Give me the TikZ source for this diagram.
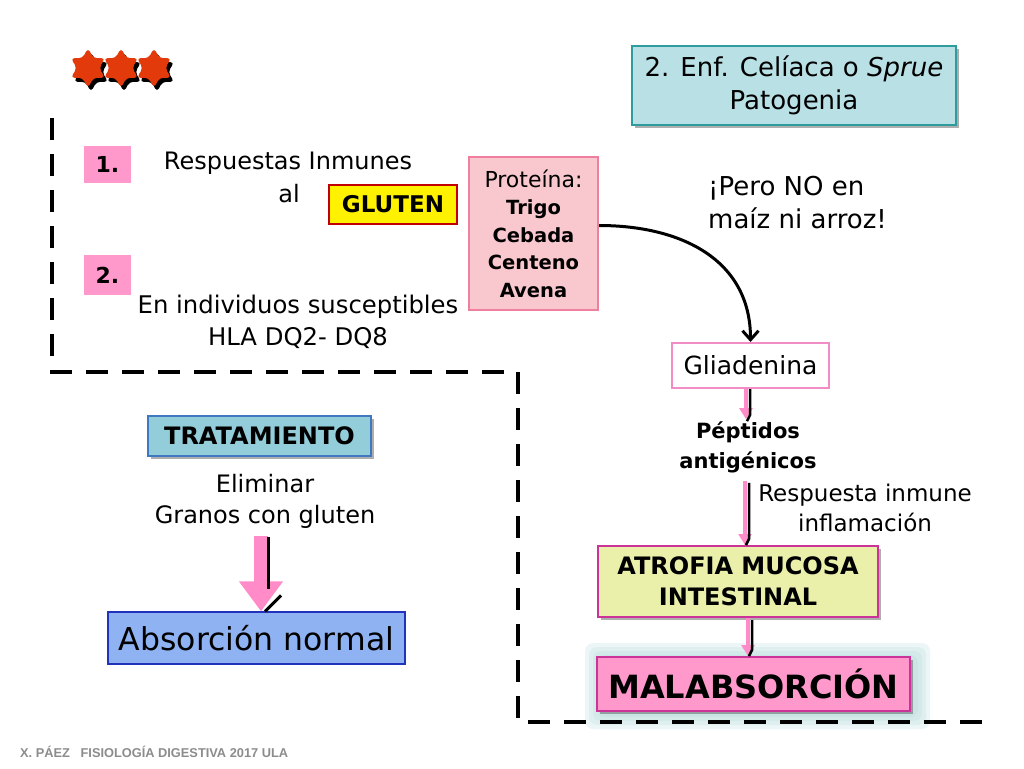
\documentclass[tikz,border=0pt]{standalone}
\usepackage{fontspec}
\setmainfont{DejaVu Sans}
\newfontfamily\footfont{Liberation Sans}
\usetikzlibrary{shapes.geometric,arrows.meta,shadows,calc}
\definecolor{starred}{HTML}{E23A0A}
\definecolor{pinkA}{HTML}{FF8CC8}
\definecolor{numpink}{HTML}{FF99CC}
\definecolor{protfill}{HTML}{F8C8CE}
\definecolor{protdraw}{HTML}{EE7F9E}
\definecolor{titlefill}{HTML}{B9E0E4}
\definecolor{titledraw}{HTML}{2E9C9C}
\definecolor{glutdraw}{HTML}{C00000}
\definecolor{gliadraw}{HTML}{F28CC4}
\definecolor{atrofill}{HTML}{EAF0AA}
\definecolor{magdraw}{HTML}{CC3399}
\definecolor{malfill}{HTML}{FF99CC}
\definecolor{tratfill}{HTML}{93CDDA}
\definecolor{tratdraw}{HTML}{3F78C0}
\definecolor{absfill}{HTML}{8EB2F2}
\definecolor{absdraw}{HTML}{2233BB}
\definecolor{glow}{HTML}{A9D3D6}
\definecolor{footgray}{HTML}{8C8C8C}
\newcommand\fsz[2]{\fontsize{#1}{#2}\selectfont}
\begin{document}
\begin{tikzpicture}[x=1pt,y=-1pt,
  box/.style={draw, line width=2pt, inner sep=0pt, align=center},
  txt/.style={inner sep=0pt, align=center, font=\fsz{23}{31}},
  shad/.style={drop shadow={shadow xshift=3pt, shadow yshift=-3pt, opacity=0.45, fill=black!70}},
  pinkarr/.style={draw=pinkA, line width=4pt, -{Triangle[length=11pt,width=13pt]}},
  blackarr/.style={draw=black, line width=2.5pt},
  starshape/.style={star, star points=6, star point ratio=1.8, minimum size=40pt, inner sep=0pt, rounded corners=4pt},
]
\path[use as bounding box, fill=white] (0,0) rectangle (1024,768);

% stars
\foreach \i/\x in {1/88,2/121,3/154}{
  \node[starshape, fill=black] (sh\i) at (\x+3,72) {};
  \node[starshape, fill=starred] (st\i) at (\x,68) {};
}

% malabsorcion glow (behind frame)
\foreach \g in {16,12,8,4}{
  \fill[glow, opacity=0.2, rounded corners=8pt] (597-\g+4,657-\g+2) rectangle (910+\g+4,711+\g+2);
}

% dashed frame
\draw[line width=4pt, dash pattern=on 22pt off 14pt] (52,118) -- (52,372) -- (518,372) -- (518,722) -- (985,722);

% title
\node[box, shad, draw=titledraw, fill=titlefill, minimum width=324pt, minimum height=79pt, font=\fsz{26}{33}] (title) at (794,85.5)
  {2. Enf. Celíaca o \textit{Sprue}\\Patogenia};

% numbered items
\node[fill=numpink, minimum width=47pt, minimum height=37pt, inner sep=0pt, font=\bfseries\fsz{22}{24}] (one) at (107.5,164.5) {1.};
\node[fill=numpink, minimum width=47pt, minimum height=40pt, inner sep=0pt, font=\bfseries\fsz{22}{24}] (two) at (107.5,275) {2.};

\node[txt, font=\fsz{24}{31}] (resp) at (288,163) {Respuestas Inmunes};
\node[txt, font=\fsz{24}{31}] (al) at (289,194) {al};
\node[box, draw=glutdraw, line width=2.5pt, fill=yellow, minimum width=128pt, minimum height=39pt, font=\bfseries\fsz{23}{26}] (gluten) at (393,204.5) {GLUTEN};

\node[txt, font=\fsz{24.3}{32}] (indiv) at (298,322) {En individuos susceptibles\\HLA DQ2- DQ8};

% proteina
\node[box, draw=protdraw, fill=protfill, minimum width=129pt, minimum height=153pt, font=\fsz{19.5}{27.5}] (prot) at (533.5,233.5)
  {\fsz{22}{27.5}Proteína:\\\textbf{Trigo}\\\textbf{Cebada}\\\textbf{Centeno}\\\textbf{Avena}};

% pero
\node[txt, align=left, anchor=west, font=\fsz{26}{33}] (pero) at (708,202.5) {¡Pero NO en\\maíz ni arroz!};

% gliadenina
\node[box, draw=gliadraw, fill=white, minimum width=157pt, minimum height=45pt, font=\fsz{25}{28}] (glia) at (750.5,365.5) {Gliadenina};

\draw[line width=3pt, -{Straight Barb[length=9pt,width=16pt]}] (prot.east) ++(0,-8) to[out=0, in=90, looseness=1.1] (glia.north);

\node[txt, font=\bfseries\fsz{21}{30}] (pept) at (748,447) {Péptidos\\antigénicos};
\node[txt, font=\fsz{23}{30}] (resp2) at (865,508) {Respuesta inmune\\inflamación};

\node[box, shad, draw=magdraw, fill=atrofill, minimum width=280pt, minimum height=71pt, font=\bfseries\fsz{24}{31}] (atrof) at (738,581.5) {ATROFIA MUCOSA\\INTESTINAL};

\node[box, shad, draw=magdraw, fill=malfill, minimum width=313pt, minimum height=54pt, font=\bfseries\fsz{32}{36}] (malab) at (753.5,684) {MALABSORCIÓN};

% pink arrows right column
\draw[pinkarr] (glia.south -| 746,0) -- ($(pept.north -| 746,0)+(0,-2)$);
\draw[blackarr] (glia.south -| 750,0) -- ($(pept.north -| 750,0)+(0,-6)$) -- ++(-3,6);
\draw[pinkarr] ($(pept.south -| 745,0)+(0,8)$) -- (atrof.north -| 745,0);
\draw[blackarr] ($(pept.south -| 749,0)+(0,10)$) -- ($(atrof.north -| 749,0)+(0,-6)$) -- ++(-3,6);
\draw[pinkarr] (atrof.south -| 748,0) -- (malab.north -| 748,0);
\draw[blackarr] ($(atrof.south -| 752,0)+(0,2)$) -- ($(malab.north -| 752,0)+(0,-6)$) -- ++(-3,6);

% treatment
\node[box, shad, draw=tratdraw, line width=1.2pt, fill=tratfill, minimum width=223pt, minimum height=40pt, font=\bfseries\fsz{24}{26}] (trat) at (259.5,436) {TRATAMIENTO};
\node[txt, font=\fsz{24}{31}] (elim) at (265,501) {Eliminar\\Granos con gluten};
\node[box, draw=absdraw, line width=1.2pt, fill=absfill, minimum width=297pt, minimum height=52pt, font=\fsz{31.5}{34}] (absor) at (256.5,638) {Absorción normal};

\draw[draw=pinkA, line width=14pt, -{Triangle[length=30pt,width=42pt]}] ($(elim.south -| 261,0)+(0,8)$) -- (absor.north -| 261,0);
\draw[draw=black, line width=3pt] ($(elim.south -| 268,0)+(0,9)$) -- ($(absor.north -| 268,0)+(0,-22)$);
\draw[draw=black, line width=3pt] ($(absor.north -| 281,0)+(0,-16)$) -- ($(absor.north -| 265,0)+(0,0)$);

% footer
\node[anchor=west, inner sep=0pt, text=footgray, font=\footfont\bfseries\fsz{12.8}{14}] (foot) at (20,752) {X. PÁEZ\ \ \ FISIOLOGÍA DIGESTIVA 2017 ULA};
\end{tikzpicture}
\end{document}
